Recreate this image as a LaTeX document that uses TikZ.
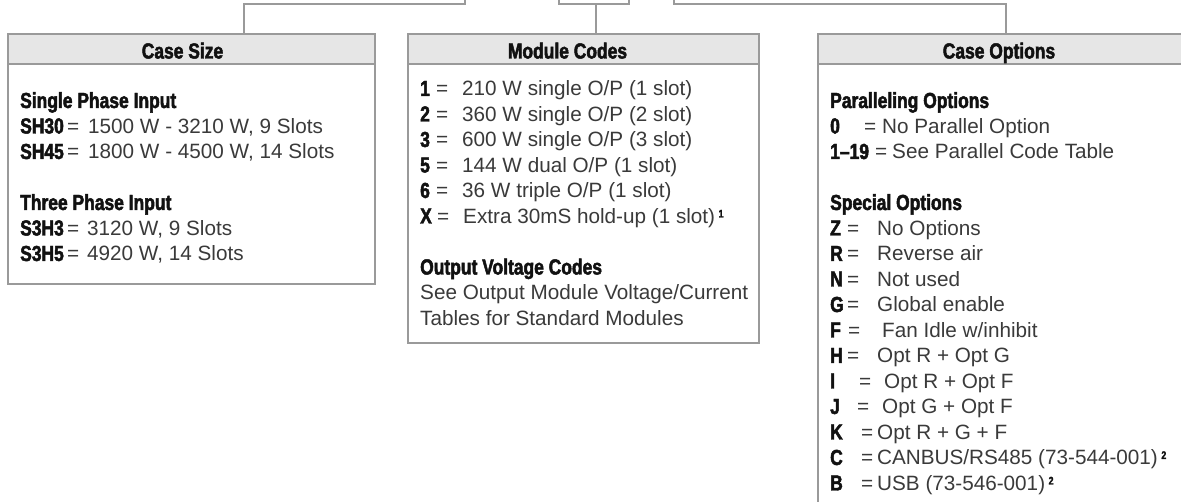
\documentclass[tikz,border=0pt]{standalone}
\usepackage{fontspec}
\setmainfont{Liberation Sans}
\newfontfamily\cbf[FakeStretch=0.8,FakeBold=2.2]{Liberation Sans Bold}
\newcommand\cb{\cbf\fontsize{21.8}{25.5}\selectfont\color{codeblack}}
\definecolor{txt}{HTML}{3A3A3A}
\definecolor{codeblack}{HTML}{111111}
\definecolor{bdr}{HTML}{9A9A9A}
\definecolor{hdr}{HTML}{E6E6E6}
\newcommand\ent[4]{\makebox[#1pt][l]{\cb #3}\makebox[\dimexpr #2pt-#1pt\relax][l]{=}#4}
\newcommand\fnote[1]{\,\raisebox{6pt}{\cbf\fontsize{11}{11}\selectfont\color{codeblack}#1}}
\begin{document}
\begin{tikzpicture}[x=1pt,y=-1pt,
  boxframe/.style={draw=bdr, line width=1.6pt, fill=white, inner sep=0pt, anchor=north west},
  headband/.style={draw=bdr, line width=1.6pt, fill=hdr, inner sep=0pt, anchor=north west, minimum height=30pt},
  headtext/.style={anchor=base, inner sep=0pt, font=\cb},
  body/.style={anchor=base west, inner sep=0pt, font=\fontsize{20.7}{25.5}\selectfont\color{txt}},
  conn/.style={draw=bdr, line width=1.6pt}]
\useasboundingbox (0,0) rectangle (1181,502);
\clip (0,0) rectangle (1181,502);
\fill[white] (0,0) rectangle (1181,502);

% boxes
\node[boxframe, minimum width=367pt, minimum height=250pt] (cs) at (7,33) {};
\node[headband, minimum width=367pt] (csband) at (7,33) {};
\node[boxframe, minimum width=351pt, minimum height=309pt] (mc) at (407,33) {};
\node[headband, minimum width=351pt] (mcband) at (407,33) {};
\node[boxframe, minimum width=367pt, minimum height=490pt] (co) at (817,33) {};
\node[headband, minimum width=367pt] (coband) at (817,33) {};

% connectors
\coordinate (lt) at (465,-5);
\coordinate (lj) at (244,4);
\draw[conn] (lt) |- (lj) -- (lj |- csband.north);
\coordinate (ma) at (559,-5);
\coordinate (mb) at (629,-5);
\coordinate (mj) at (596,4);
\draw[conn] (ma) |- (mj) -| (mb);
\draw[conn] (mj) -- (mj |- mcband.north);
\coordinate (rt) at (674,-5);
\coordinate (rj) at (1006,4);
\draw[conn] (rt) |- (rj) -- (rj |- coband.north);

% headers
\node[headtext] (csh) at (182.5,58.5) {Case Size};
\node[headtext] (mch) at (567.5,58.5) {Module Codes};
\node[headtext] (coh) at (999,58.5) {Case Options};

% bodies
\node[body] (cst) at (20,108) {\begin{tabular}[t]{@{}l@{}}
{\cb Single Phase Input}\\
\ent{47}{68}{SH30}{1500 W - 3210 W, 9 Slots}\\
\ent{47}{68}{SH45}{1800 W - 4500 W, 14 Slots}\\
\\
{\cb Three Phase Input}\\
\ent{47}{67}{S3H3}{3120 W, 9 Slots}\\
\ent{47}{67}{S3H5}{4920 W, 14 Slots}
\end{tabular}};

\node[body] (mct) at (420,96) {\begin{tabular}[t]{@{}l@{}}
\ent{16}{42}{1}{210 W single O/P (1 slot)}\\
\ent{16}{42}{2}{360 W single O/P (2 slot)}\\
\ent{16}{42}{3}{600 W single O/P (3 slot)}\\
\ent{16}{42}{5}{144 W dual O/P (1 slot)}\\
\ent{16}{42}{6}{36 W triple O/P (1 slot)}\\
\ent{17}{43}{X}{Extra 30mS hold-up (1 slot)\fnote{1}}\\
\\
{\cb Output Voltage Codes}\\
See Output Module Voltage/Current\\
Tables for Standard Modules
\end{tabular}};

\node[body] (cot) at (830,108) {\begin{tabular}[t]{@{}l@{}}
{\cb Paralleling Options}\\
\ent{34}{52}{0}{No Parallel Option}\\
\ent{45}{62}{1–19}{See Parallel Code Table}\\
\\
{\cb Special Options}\\
\ent{17}{47}{Z}{No Options}\\
\ent{17}{47}{R}{Reverse air}\\
\ent{17}{47}{N}{Not used}\\
\ent{17}{47}{G}{Global enable}\\
\ent{18}{52}{F}{Fan Idle w/inhibit}\\
\ent{17}{47}{H}{Opt R + Opt G}\\
\ent{29}{54}{I}{Opt R + Opt F}\\
\ent{27}{52}{J}{Opt G + Opt F}\\
\ent{31}{47}{K}{Opt R + G + F}\\
\ent{31}{47}{C}{CANBUS/RS485 (73-544-001)\fnote{2}}\\
\ent{31}{47}{B}{USB (73-546-001)\fnote{2}}
\end{tabular}};
\end{tikzpicture}
\end{document}
